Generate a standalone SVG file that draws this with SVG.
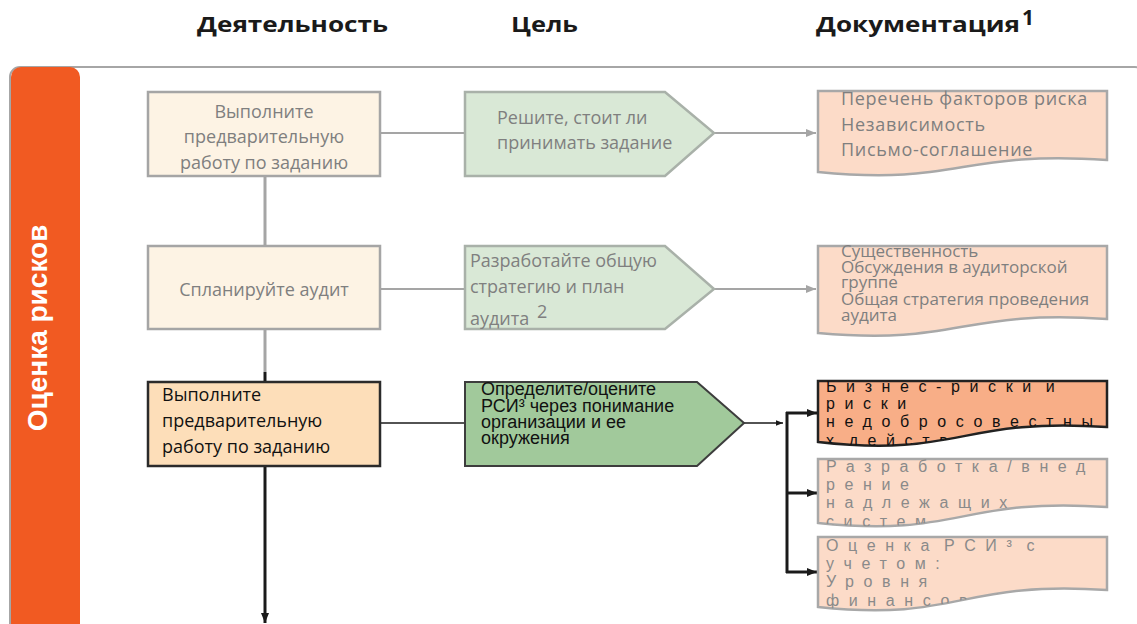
<svg xmlns="http://www.w3.org/2000/svg" width="1137" height="624" viewBox="0 0 1137 624">
<style>
.hdr{font-family:"Open Sans","Liberation Sans",sans-serif;font-weight:bold;font-size:21px;fill:#1a1a1a}
.g{font-family:"Open Sans","Liberation Sans",sans-serif;font-size:18px;fill:#7f7f7f}
.gd{font-family:"Open Sans","Liberation Sans",sans-serif;font-size:18px;letter-spacing:0.7px;fill:#7f7f7f}
.gs{font-family:"Open Sans","Liberation Sans",sans-serif;font-size:17px;fill:#7f7f7f}
.b{font-family:"Open Sans","Liberation Sans",sans-serif;font-size:18px;fill:#111}
.a{font-family:"Liberation Sans",Arial,sans-serif;font-size:18px;fill:#111}
.sp{font-family:"Liberation Sans",Arial,sans-serif;font-size:16px;letter-spacing:9.6px;word-spacing:-9px}
.lbox{fill:#FDF3E4;stroke:#A5A5A5;stroke-width:2.5}
.lgrn{fill:#D9E8D6;stroke:#A9B1A9;stroke-width:2.5}
.ldoc{fill:#FCDBC8;stroke:#A8A8A8;stroke-width:2.5}
.gline{stroke:#A5A5A5;stroke-width:2;fill:none}
.gv{stroke:#A5A5A5;stroke-width:3;fill:none}
.kline{stroke:#1a1a1a;stroke-width:1.5;fill:none}
.kv{stroke:#1a1a1a;stroke-width:3;fill:none}
</style>
<defs>
<marker id="ag" viewBox="0 0 10 10" refX="10" refY="5" markerWidth="5" markerHeight="5" orient="auto" markerUnits="strokeWidth"><path d="M0,1 L10,5 L0,9 z" fill="#A5A5A5"/></marker>
<marker id="ak" viewBox="0 0 10 10" refX="10" refY="5" markerWidth="5" markerHeight="5" orient="auto" markerUnits="strokeWidth"><path d="M0,1 L10,5 L0,9 z" fill="#1a1a1a"/></marker>
<marker id="ak2" viewBox="0 0 10 10" refX="10" refY="5" markerWidth="3.5" markerHeight="3.5" orient="auto" markerUnits="strokeWidth"><path d="M0,1 L10,5 L0,9 z" fill="#1a1a1a"/></marker>
<clipPath id="c3a"><path d="M818,381 H1107 V427 C960,417 960,458 818,442 Z"/></clipPath>
<clipPath id="c3b"><path d="M818,459 H1107 V507 C960,497 960,538 818,523 Z"/></clipPath>
<clipPath id="c3c"><path d="M818,537 H1107 V590 C960,580 960,622 818,607 Z"/></clipPath>
</defs>

<g id="headers">
<text class="hdr" x="197" y="32" textLength="191" lengthAdjust="spacingAndGlyphs">Деятельность</text>
<text class="hdr" x="511" y="32" textLength="67" lengthAdjust="spacingAndGlyphs">Цель</text>
<text class="hdr" x="816" y="32" textLength="204" lengthAdjust="spacingAndGlyphs">Документация</text>
<text class="hdr" x="1022" y="25" font-size="12">1</text>
</g>

<g id="frame">
<rect x="10" y="67" width="1135" height="600" rx="10" fill="none" stroke="#A6A6A6" stroke-width="2"/>
<rect x="11" y="67" width="69" height="557" rx="10" fill="#F15A22"/>
<rect x="11" y="600" width="69" height="30" fill="#F15A22"/>
<text transform="translate(47,328) rotate(-90)" text-anchor="middle" font-family="'Liberation Sans',Arial,sans-serif" font-weight="bold" font-size="28" fill="#ffffff">Оценка рисков</text>
</g>

<g id="connectors">
<line class="gline" x1="381" y1="133" x2="465" y2="133"/>
<line class="gline" x1="714" y1="133" x2="816" y2="133" marker-end="url(#ag)"/>
<line class="gv" x1="265" y1="177" x2="265" y2="246"/>
<line class="gline" x1="381" y1="289" x2="465" y2="289"/>
<line class="gline" x1="714" y1="289" x2="816" y2="289" marker-end="url(#ag)"/>
<line class="gv" x1="265" y1="329" x2="265" y2="372"/>
<line class="kv" x1="265" y1="372" x2="265" y2="382"/>
<line class="kline" x1="380" y1="423" x2="465" y2="423"/>
<line class="kline" x1="744" y1="423" x2="783" y2="423" marker-end="url(#ak)"/>
<line class="kv" x1="787" y1="412" x2="787" y2="573"/>
<line class="kv" x1="786" y1="413" x2="817" y2="413" marker-end="url(#ak2)"/>
<line class="kv" x1="786" y1="493" x2="817" y2="493" marker-end="url(#ak2)"/>
<line class="kv" x1="786" y1="572" x2="817" y2="572" marker-end="url(#ak2)"/>
<line class="kv" x1="265" y1="466" x2="265" y2="623" marker-end="url(#ak2)"/>
</g>

<g id="n1">
<rect class="lbox" x="148" y="92" width="232" height="84"/>
<text class="g" text-anchor="middle" x="264" y="118">Выполните</text>
<text class="g" text-anchor="middle" x="264" y="143">предварительную</text>
<text class="g" text-anchor="middle" x="264" y="169">работу по заданию</text>
</g>
<g id="n2">
<path class="lgrn" d="M465,92 H665 L714,133 L665,176 H465 Z"/>
<text class="g" x="497" y="124">Решите, стоит ли</text>
<text class="g" x="497" y="149">принимать задание</text>
</g>
<g id="n3">
<path class="ldoc" d="M818,91 H1107 V160 C960,150 960,186 818,172 Z"/>
<text class="gd" x="841" y="105">Перечень факторов риска</text>
<text class="gd" x="841" y="131">Независимость</text>
<text class="gd" x="841" y="156">Письмо-соглашение</text>
</g>

<g id="n4">
<rect class="lbox" x="148" y="246" width="232" height="83"/>
<text class="g" text-anchor="middle" x="264" y="296">Спланируйте аудит</text>
</g>
<g id="n5">
<path class="lgrn" d="M465,246 H665 L714,289 L665,329 H465 Z"/>
<text class="g" x="470" y="267">Разработайте общую</text>
<text class="g" x="470" y="293">стратегию и план</text>
<text class="g" x="470" y="325">аудита</text>
<text class="g" x="537" y="318" font-size="15">2</text>
</g>
<g id="n6">
<path class="ldoc" d="M818,246 H1107 V319 C960,309 960,346 818,333 Z"/>
<text class="gs" x="841" y="257">Существенность</text>
<text class="gs" x="841" y="273">Обсуждения в аудиторской</text>
<text class="gs" x="841" y="288">группе</text>
<text class="gs" x="841" y="305">Общая стратегия проведения</text>
<text class="gs" x="841" y="321">аудита</text>
</g>

<g id="n7">
<rect x="148" y="382" width="232" height="84" fill="#FDDEB9" stroke="#2B2B2B" stroke-width="2.5"/>
<text class="b" x="162" y="401">Выполните</text>
<text class="b" x="162" y="427">предварительную</text>
<text class="b" x="162" y="453">работу по заданию</text>
</g>
<g id="n8">
<path d="M465,382 H697 L744,423 L697,466 H465 Z" fill="#A1C99B" stroke="#3D3D3D" stroke-width="2"/>
<text class="a" x="481" y="395">Определите/оцените</text>
<text class="a" x="481" y="412">РСИ³ через понимание</text>
<text class="a" x="481" y="428">организации и ее</text>
<text class="a" x="481" y="444">окружения</text>
</g>
<g id="n9">
<path d="M818,381 H1107 V427 C960,417 960,458 818,442 Z" fill="#F8AE87" stroke="#222" stroke-width="2.5"/>
<g clip-path="url(#c3a)" class="sp" fill="#111">
<text x="826" y="392">Бизнес-риски и</text>
<text x="826" y="409">риски</text>
<text x="826" y="427">недобросовестны</text>
<text x="826" y="446">х действий</text>
</g>
</g>
<g id="n10">
<path class="ldoc" d="M818,459 H1107 V507 C960,497 960,538 818,523 Z"/>
<g clip-path="url(#c3b)" class="sp" fill="#8a8a8a">
<text x="826" y="472">Разработка/внед</text>
<text x="826" y="490">рение</text>
<text x="826" y="508">надлежащих</text>
<text x="826" y="527">систем</text>
</g>
</g>
<g id="n11">
<path class="ldoc" d="M818,537 H1107 V590 C960,580 960,622 818,607 Z"/>
<g clip-path="url(#c3c)" class="sp" fill="#8a8a8a">
<text x="826" y="551">Оценка РСИ³ с</text>
<text x="826" y="569">учетом:</text>
<text x="826" y="587">Уровня</text>
<text x="826" y="606">финансовой</text>
</g>
</g>
</svg>
